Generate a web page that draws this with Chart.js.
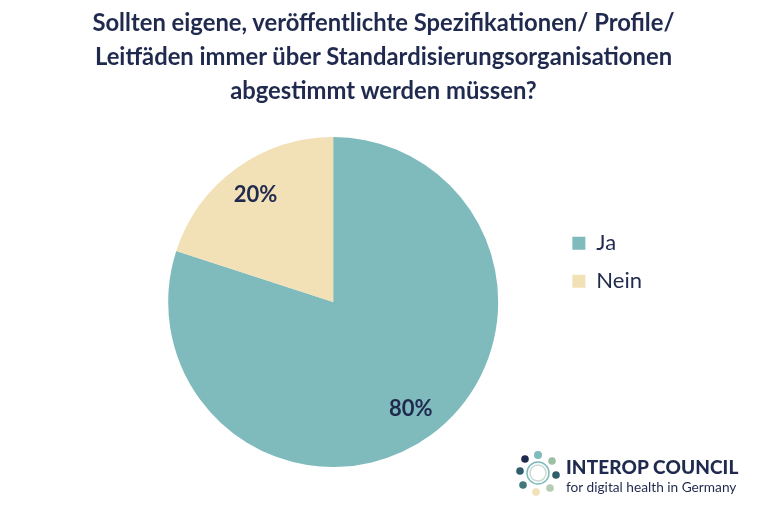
<!DOCTYPE html>
<html><head><meta charset="utf-8">
<script src="https://cdn.jsdelivr.net/npm/chart.js@4"></script>
<style>
html,body{margin:0;padding:0;background:#fff;}
#wrap{position:relative;width:767px;height:523px;}
#title{position:absolute;left:0;top:5px;width:767px;text-align:center;font-family:Lato,sans-serif;font-weight:bold;font-size:23.8px;line-height:34px;color:#1f2a4e;white-space:nowrap;}
#logo{position:absolute;left:516px;top:450px;width:250px;height:48px;font-family:Lato,sans-serif;color:#1f2a4e;}
#logo svg{position:absolute;left:0;top:0;}
#logo .t1{position:absolute;left:50px;top:5px;font-weight:900;font-size:19px;letter-spacing:0.1px;white-space:nowrap;}
#logo .t2{position:absolute;left:50px;top:28px;font-size:13.7px;white-space:nowrap;}
</style></head>
<body>
<div id="wrap">
<canvas id="c" width="767" height="523"></canvas>
<div id="title"></div>
<div id="logo">
<svg width="44" height="46" viewBox="0 0 44 46">
<circle cx="22" cy="23" r="11" fill="none" stroke="#7fbbbd" stroke-width="1.5"/>
<circle cx="22" cy="23" r="8" fill="none" stroke="#c9d9d3" stroke-width="1.5"/>
<circle cx="22" cy="5" r="4" fill="#7fbbbd"/>
<circle cx="36" cy="11" r="3.8" fill="#9cbfa5"/>
<circle cx="40" cy="25" r="3.8" fill="#2f5d6b"/>
<circle cx="34" cy="38" r="3.8" fill="#b5cdb3"/>
<circle cx="20" cy="42" r="3.8" fill="#f2e0b6"/>
<circle cx="7" cy="35" r="3.8" fill="#3f7a78"/>
<circle cx="4" cy="21" r="3.8" fill="#2f5d6b"/>
<circle cx="9" cy="9" r="3.8" fill="#1f2a4e"/>
</svg>
<div class="t1">INTEROP COUNCIL</div>
<div class="t2">for digital health in Germany</div>
</div>
</div>
<script>
const categories = ["Ja", "Nein"];
const values = [80, 20];
const valueLabels = ["80%", "20%"];
const colors = ["#7fbbbd", "#f2e0b6"];
const titleLines = ["Sollten eigene, veröffentlichte Spezifikationen/ Profile/", "Leitfäden immer über Standardisierungsorganisationen", "abgestimmt werden müssen?"];

const navy = "#1f2a4e";

const titleEl = document.getElementById("title");
titleLines.forEach((line, i) => {
  if (i) titleEl.appendChild(document.createElement("br"));
  titleEl.appendChild(document.createTextNode(line));
});

const labelPlugin = {
  id: "sliceLabels",
  afterDatasetsDraw(chart) {
    const ctx = chart.ctx;
    const meta = chart.getDatasetMeta(0);
    ctx.save();
    ctx.font = "bold 22px Lato";
    ctx.fillStyle = navy;
    ctx.textAlign = "center";
    ctx.textBaseline = "middle";
    meta.data.forEach((arc, i) => {
      const p = arc.getProps(["x","y","startAngle","endAngle","outerRadius"], true);
      const mid = (p.startAngle + p.endAngle) / 2;
      const r = p.outerRadius * 0.8;
      ctx.fillText(valueLabels[i], p.x + Math.cos(mid) * r, p.y + Math.sin(mid) * r);
    });
    ctx.restore();
  }
};

new Chart(document.getElementById("c"), {
  type: "pie",
  data: {
    labels: categories,
    datasets: [{ data: values, backgroundColor: colors, borderWidth: 0 }]
  },
  options: {
    responsive: false,
    animation: false,
    layout: { padding: { left: 110, right: 115, top: 137, bottom: 56 } },
    plugins: {
      title: { display: false },
      legend: {
        position: "right",
        align: "start",
        title: { display: true, text: " ", font: { size: 1 }, padding: { top: 0, bottom: 78 } },
        labels: {
          color: navy,
          font: { family: "Lato", size: 22 },
          boxWidth: 13,
          boxHeight: 13,
          padding: 16
        }
      },
      tooltip: { enabled: false }
    }
  },
  plugins: [labelPlugin]
});
</script>
</body></html>
